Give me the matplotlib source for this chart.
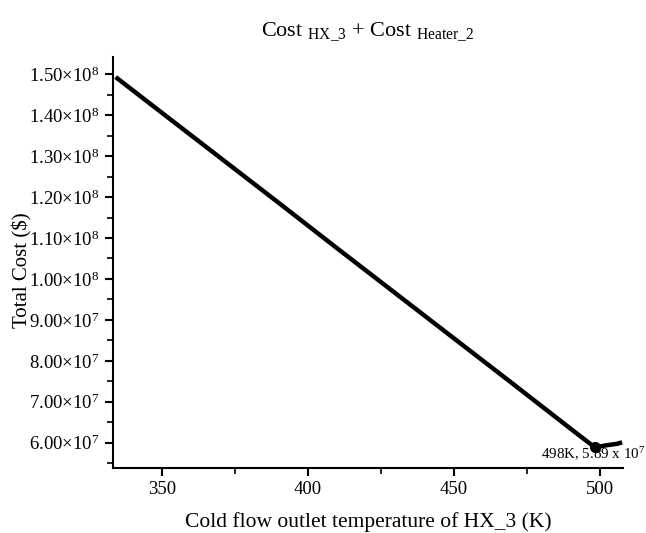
import matplotlib
matplotlib.use("Agg")
import matplotlib.pyplot as plt
import matplotlib.transforms as mtransforms
from matplotlib.ticker import FuncFormatter, MultipleLocator

plt.rcParams['font.family'] = ['Liberation Serif', 'DejaVu Serif']
plt.rcParams['mathtext.fontset'] = 'custom'
plt.rcParams['mathtext.rm'] = 'Liberation Serif'
plt.rcParams['mathtext.it'] = 'Liberation Serif:italic'

# cold flow outlet temperature (K) vs total cost ($)
temp_k = [334.2, 350, 370, 390, 410, 430, 450, 470, 490, 498.3, 502, 506, 507.6]
total_cost = [1.493e8, 1.406e8, 1.296e8, 1.186e8, 1.075e8, 0.965e8, 0.855e8,
              0.745e8, 0.634e8, 0.5885e8, 0.5935e8, 0.5975e8, 0.601e8]
min_temp = 498.3
min_cost = 0.5885e8
min_label = r"498K, 5.89 x 10$^{7}$"

fig = plt.figure(figsize=(6.46, 5.33), dpi=100)
ax = fig.add_axes([0.1745, 0.1225, 0.7899, 0.7705])

ax.plot(temp_k, total_cost, color='black', lw=3.2, solid_capstyle='butt')
ax.plot([min_temp], [min_cost], 'o', color='black', ms=7)

# label sits just above the x axis, right-aligned at the figure edge
trans = mtransforms.blended_transform_factory(fig.transFigure, ax.transData)
ax.text(0.999, 5.6e7, min_label, transform=trans, fontsize=10.8,
        va='baseline', ha='right', clip_on=False)

ax.set_xlim(333.2, 507.9)
ax.set_ylim(5.39e7, 1.542e8)

ax.xaxis.set_major_locator(MultipleLocator(50))
ax.xaxis.set_minor_locator(MultipleLocator(25))
ax.yaxis.set_major_locator(MultipleLocator(1e7))
ax.yaxis.set_minor_locator(MultipleLocator(5e6))


def sci_fmt(v, pos):
    exp = 8 if v >= 1e8 - 1 else 7
    mant = v / 10 ** exp
    return r"%.2f$\times$10$^{%d}$" % (mant, exp)


ax.yaxis.set_major_formatter(FuncFormatter(sci_fmt))

for side in ['top', 'right']:
    ax.spines[side].set_visible(False)
for side in ['left', 'bottom']:
    ax.spines[side].set_linewidth(1.5)

ax.tick_params(which='major', direction='out', length=6, width=1.5, labelsize=13.5)
ax.tick_params(which='minor', direction='out', length=4, width=1.2)

ax.set_xlabel("Cold flow outlet temperature of HX_3 (K)", fontsize=15.5, labelpad=10)
ax.set_ylabel("Total Cost ($)", fontsize=15)
ax.yaxis.set_label_coords(-0.158, 0.481)
fig.text(0.5 * (0.1745 + 0.9644), 0.94, r"Cost $_{\mathrm{HX\_3}}$ + Cost $_{\mathrm{Heater\_2}}$",
         ha='center', va='center', fontsize=16)

fig.savefig("out.png", dpi=100)
